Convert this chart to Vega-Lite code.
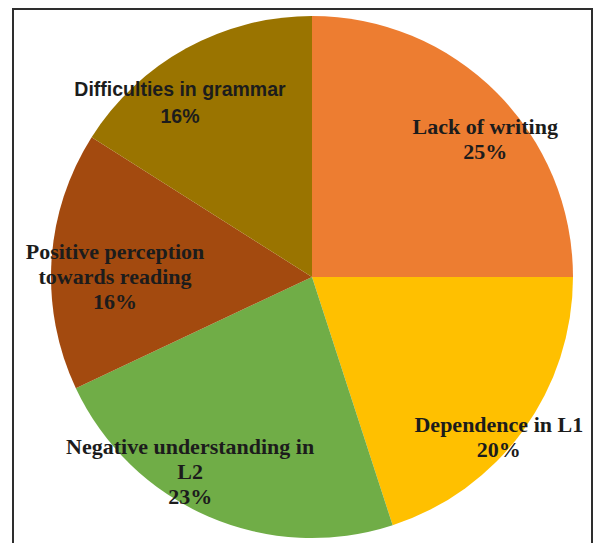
{
  "$schema": "https://vega.github.io/schema/vega-lite/v6.json",
  "width": 579,
  "height": 540,
  "autosize": {"type": "none"},
  "padding": {"left": 13, "top": 9, "right": 2, "bottom": 0},
  "background": "white",
  "config": {"view": {"stroke": null}},
  "datasets": {
    "slices": [
      {"i": 1, "cat": "Lack of writing", "pct": 25, "label": "Lack of writing\n25%"},
      {"i": 2, "cat": "Dependence in L1", "pct": 20, "label": "Dependence in L1\n20%"},
      {"i": 3, "cat": "Negative understanding in L2", "pct": 23, "label": "Negative understanding in\nL2\n23%"},
      {"i": 4, "cat": "Positive perception towards reading", "pct": 16, "label": "Positive perception\ntowards reading\n16%"},
      {"i": 5, "cat": "Difficulties in grammar", "pct": 16, "label": "Difficulties in grammar\n16%"}
    ],
    "frame": [{"name": "frame"}]
  },
  "data": {"name": "slices"},
  "layer": [
    {
      "mark": {"type": "arc", "outerRadius": 261, "xOffset": 9.5, "yOffset": -2},
      "encoding": {
        "theta": {"field": "pct", "type": "quantitative", "stack": true},
        "order": {"field": "i", "type": "quantitative"},
        "color": {
          "field": "cat",
          "type": "nominal",
          "scale": {
            "domain": ["Lack of writing", "Dependence in L1", "Negative understanding in L2", "Positive perception towards reading", "Difficulties in grammar"],
            "range": ["#ED7D31", "#FFC000", "#70AD47", "#A34A0F", "#9A7400"]
          },
          "legend": null
        }
      }
    },
    {
      "mark": {"type": "text", "radius": 221, "thetaOffset": 0.115, "xOffset": 9.5, "yOffset": -14.5, "font": "Liberation Serif", "fontWeight": "bold", "fontSize": 22, "lineBreak": "\n", "lineHeight": 25, "align": "center", "baseline": "middle", "fill": "#1c1c1c"},
      "encoding": {
        "theta": {"field": "pct", "type": "quantitative", "stack": true},
        "order": {"field": "i", "type": "quantitative"},
        "detail": {"field": "cat", "type": "nominal"},
        "text": {"condition": {"test": "datum.i != 1", "value": ""}, "field": "label", "type": "nominal"}
      }
    },
    {
      "mark": {"type": "text", "radius": 246, "thetaOffset": 0.08, "xOffset": 9.5, "yOffset": -14.5, "font": "Liberation Serif", "fontWeight": "bold", "fontSize": 22, "lineBreak": "\n", "lineHeight": 25, "align": "center", "baseline": "middle", "fill": "#1c1c1c"},
      "encoding": {
        "theta": {"field": "pct", "type": "quantitative", "stack": true},
        "order": {"field": "i", "type": "quantitative"},
        "detail": {"field": "cat", "type": "nominal"},
        "text": {"condition": {"test": "datum.i != 2", "value": ""}, "field": "label", "type": "nominal"}
      }
    },
    {
      "mark": {"type": "text", "radius": 230, "thetaOffset": 0.15, "xOffset": 9.5, "yOffset": -27, "font": "Liberation Serif", "fontWeight": "bold", "fontSize": 22, "lineBreak": "\n", "lineHeight": 25, "align": "center", "baseline": "middle", "fill": "#1c1c1c"},
      "encoding": {
        "theta": {"field": "pct", "type": "quantitative", "stack": true},
        "order": {"field": "i", "type": "quantitative"},
        "detail": {"field": "cat", "type": "nominal"},
        "text": {"condition": {"test": "datum.i != 3", "value": ""}, "field": "label", "type": "nominal"}
      }
    },
    {
      "mark": {"type": "text", "radius": 197, "thetaOffset": -0.063, "xOffset": 9.5, "yOffset": -27, "font": "Liberation Serif", "fontWeight": "bold", "fontSize": 22, "lineBreak": "\n", "lineHeight": 25, "align": "center", "baseline": "middle", "fill": "#1c1c1c"},
      "encoding": {
        "theta": {"field": "pct", "type": "quantitative", "stack": true},
        "order": {"field": "i", "type": "quantitative"},
        "detail": {"field": "cat", "type": "nominal"},
        "text": {"condition": {"test": "datum.i != 4", "value": ""}, "field": "label", "type": "nominal"}
      }
    },
    {
      "mark": {"type": "text", "radius": 220, "thetaOffset": -0.141, "xOffset": 9.5, "yOffset": -13, "font": "Liberation Sans", "fontWeight": "bold", "fontSize": 19.5, "lineBreak": "\n", "lineHeight": 27, "align": "center", "baseline": "middle", "fill": "#1c1c1c"},
      "encoding": {
        "theta": {"field": "pct", "type": "quantitative", "stack": true},
        "order": {"field": "i", "type": "quantitative"},
        "detail": {"field": "cat", "type": "nominal"},
        "text": {"condition": {"test": "datum.i != 5", "value": ""}, "field": "label", "type": "nominal"}
      }
    },
    {
      "data": {"name": "frame"},
      "mark": {"type": "rect", "fill": null, "stroke": "#2e2e2e", "strokeWidth": 2},
      "encoding": {}
    }
  ]
}
